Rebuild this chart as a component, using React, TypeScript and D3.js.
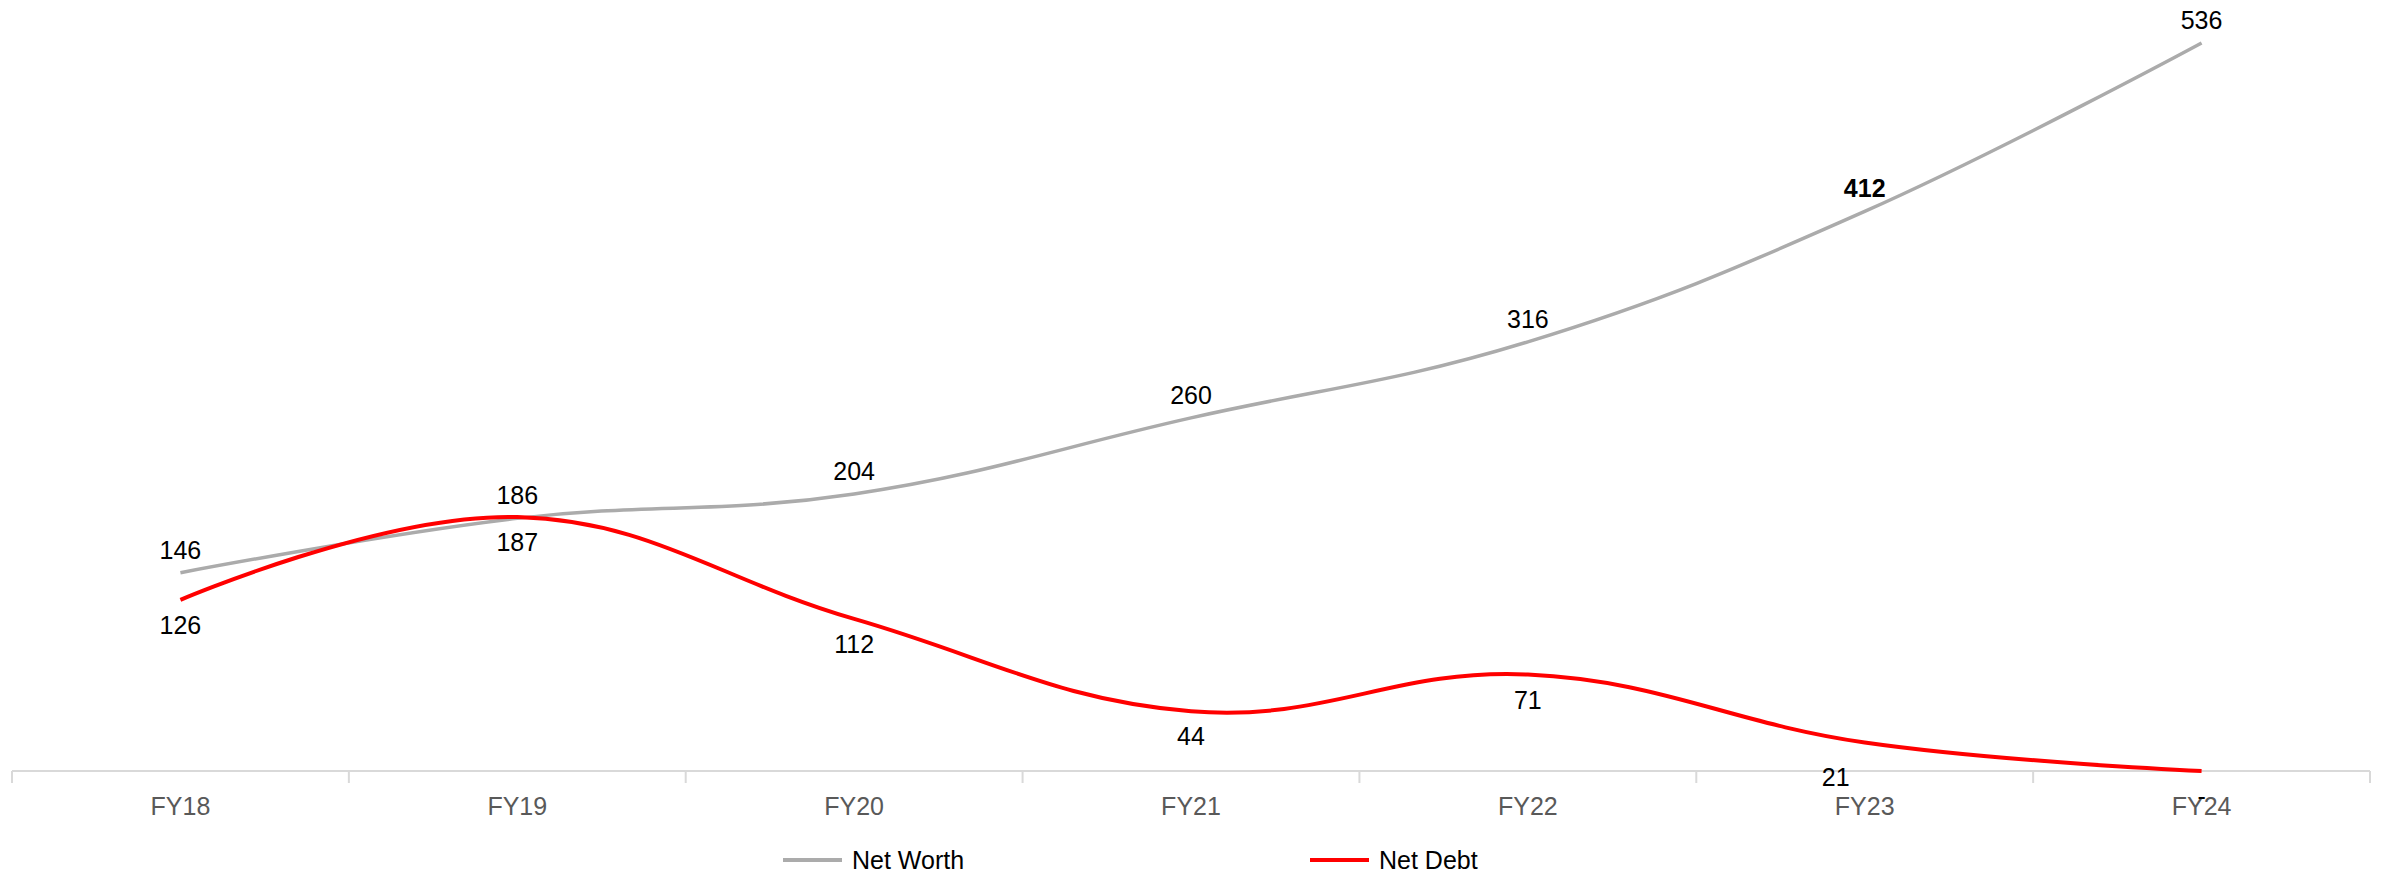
import React from "react";
import { scaleBand, scaleLinear, line, curveCardinal } from "d3";

const years = ["FY18", "FY19", "FY20", "FY21", "FY22", "FY23", "FY24"];
const netWorth = [146, 186, 204, 260, 316, 412, 536];
const netDebt = [126, 187, 112, 44, 71, 21, 0];
const seriesNames = ["Net Worth", "Net Debt"];
const seriesColors = ["#ABABAB", "#FF0000"];

const font = "'Liberation Sans', Arial, sans-serif";

export default function App() {
  // Chart dimensions
  const width = 2385;
  const height = 876;
  const axisY = 771;

  const x = scaleBand<string>().domain(years).range([12, 2370]);
  const y = scaleLinear().domain([0, 536]).range([axisY, 43]);
  const cx = (d: string) => (x(d) ?? 0) + x.bandwidth() / 2;

  // Excel-like smoothed line
  const lineGen = line<number>()
    .x((_, i) => cx(years[i]))
    .y((d) => y(d))
    .curve(curveCardinal.tension(-0.2));

  // band edges for tick marks
  const edges = [...years.map((d) => x(d) ?? 0), x.range()[1]];

  // the FY23 debt label was nudged off the axis in the original
  const debtLabelShift = (i: number) => (years[i] === "FY23" ? [-29, 10] : [0, 0]);

  return (
    <div style={{ position: "fixed", left: 0, top: 0 }}>
      <svg width={width} height={height} style={{ display: "block", background: "#fff" }}>
        {/* Axis */}
        <line x1={x.range()[0]} x2={x.range()[1]} y1={axisY} y2={axisY} stroke="#D9D9D9" strokeWidth={2} />
        {edges.map((e, i) => (
          <line key={i} x1={e} x2={e} y1={axisY} y2={axisY + 12} stroke="#D9D9D9" strokeWidth={2} />
        ))}

        {/* Lines */}
        <path d={lineGen(netWorth) || undefined} fill="none" stroke={seriesColors[0]} strokeWidth={3.5} />
        <path d={lineGen(netDebt) || undefined} fill="none" stroke={seriesColors[1]} strokeWidth={4} />

        {/* Category labels */}
        {years.map((d) => (
          <text key={d} x={cx(d)} y={815} textAnchor="middle" fontFamily={font} fontSize={25} fill="#595959">
            {d}
          </text>
        ))}

        {/* Net Debt labels below */}
        {netDebt.map((v, i) => {
          const [dx, dy] = debtLabelShift(i);
          return (
            <text
              key={i}
              x={cx(years[i]) + dx}
              y={y(v) + 34 + dy}
              textAnchor="middle"
              fontFamily={font}
              fontSize={25}
              fill="#000">
              {v === 0 ? "-" : v}
            </text>
          );
        })}

        {/* Net Worth labels above */}
        {netWorth.map((v, i) => (
          <text
            key={i}
            x={cx(years[i])}
            y={y(v) - 14}
            textAnchor="middle"
            fontFamily={font}
            fontSize={25}
            fontWeight={years[i] === "FY23" ? 700 : 400}
            fill="#000">
            {v}
          </text>
        ))}

        {/* Legend */}
        {seriesNames.map((name, i) => {
          const lx = i === 0 ? 783 : 1310;
          return (
            <g key={name}>
              <line x1={lx} x2={lx + 59} y1={860} y2={860} stroke={seriesColors[i]} strokeWidth={4} />
              <text x={lx + 69} y={869} fontFamily={font} fontSize={25} fill="#000">
                {name}
              </text>
            </g>
          );
        })}
      </svg>
    </div>
  );
}
